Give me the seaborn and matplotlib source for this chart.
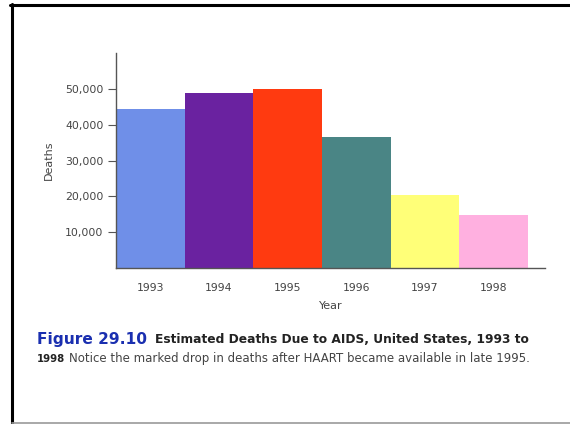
import matplotlib
matplotlib.use("Agg")
import matplotlib.pyplot as plt
import matplotlib.ticker as mticker
from matplotlib.lines import Line2D
import seaborn as sns
import pandas as pd

years = ["1993", "1994", "1995", "1996", "1997", "1998"]
deaths = [44300, 48900, 49900, 36500, 20300, 14900]
bar_colors = ["#6f8fe8", "#6a22a0", "#ff3a10", "#4a8585", "#ffff78", "#ffb0e0"]
y_ticks = [10000, 20000, 30000, 40000, 50000]

df = pd.DataFrame({"Year": years, "Deaths": deaths})

sns.set_style("white")
plt.rcParams["font.family"] = ["DejaVu Sans"]

fig = plt.figure(figsize=(5.70, 4.24), dpi=100)
ax = fig.add_axes([116 / 570, 1 - 268 / 424, (545 - 116) / 570, (268 - 53) / 424])

sns.barplot(data=df, x="Year", y="Deaths", hue="Year", palette=bar_colors,
            width=1.0, legend=False, ax=ax, saturation=1, linewidth=0)

ax.set_xlim(-0.5, 5.75)
ax.set_ylim(0, 60000)
ax.set_yticks(y_ticks)
ax.yaxis.set_major_formatter(mticker.FuncFormatter(lambda v, p: f"{int(v):,}"))

for side in ("top", "right"):
    ax.spines[side].set_visible(False)
for side in ("left", "bottom"):
    ax.spines[side].set_color("#555555")
    ax.spines[side].set_linewidth(1.0)

ax.tick_params(axis="y", which="major", left=True, length=6, width=0.8,
               color="#555555", labelsize=7.8, labelcolor="#444444", pad=3)
ax.tick_params(axis="x", which="major", bottom=False, labelsize=7.8,
               labelcolor="#444444", pad=7)

ax.set_ylabel("Deaths", fontsize=8.0, color="#444444", labelpad=8)
ax.set_xlabel("Year", fontsize=8, color="#444444", labelpad=6)

# caption
fig.text(37 / 570, 1 - 344 / 424, "Figure 29.10", color="#1a2fb0",
         fontsize=11.1, fontweight="bold", ha="left", va="baseline")
fig.text(155 / 570, 1 - 343 / 424,
         "Estimated Deaths Due to AIDS, United States, 1993 to",
         color="#222222", fontsize=8.8, fontweight="bold",
         ha="left", va="baseline")
fig.text(37 / 570, 1 - 362 / 424, "1998", color="#222222", fontsize=7.3,
         fontweight="bold", ha="left", va="baseline")
fig.text(69 / 570, 1 - 362 / 424,
         "Notice the marked drop in deaths after HAART became available in late 1995.",
         color="#444444", fontsize=8.5, ha="left", va="baseline")

# frame around the figure
fig.add_artist(Line2D([10 / 570, 1.0], [1 - 5 / 424, 1 - 5 / 424],
                      transform=fig.transFigure, color="black", linewidth=2.2))
fig.add_artist(Line2D([12 / 570, 12 / 570], [0.0, 1 - 4 / 424],
                      transform=fig.transFigure, color="black", linewidth=2.2))
fig.add_artist(Line2D([12 / 570, 1.0], [1.5 / 424, 1.5 / 424],
                      transform=fig.transFigure, color="#999999", linewidth=1.2))

fig.savefig("out.png", dpi=100)
